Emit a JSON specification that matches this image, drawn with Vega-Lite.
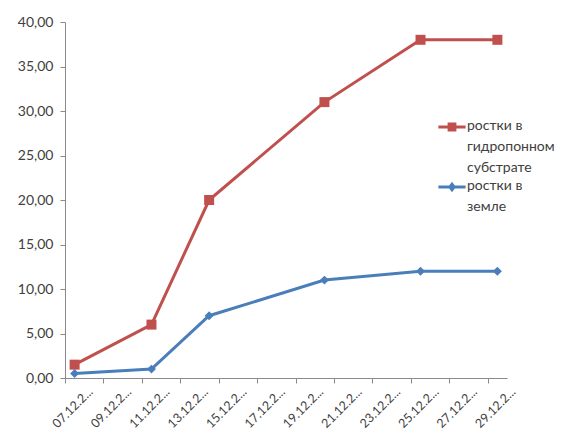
{
  "$schema": "https://vega.github.io/schema/vega-lite/v6.json",
  "autosize": {"type": "none"},
  "padding": {"left": 65, "top": 22, "right": 59, "bottom": 57},
  "width": 442,
  "height": 356,
  "background": "white",
  "config": {
    "view": {"stroke": null},
    "font": "Lato",
    "axis": {"labelFont": "Lato", "labelColor": "#404040", "domainColor": "#8a8a8a", "tickColor": "#8a8a8a", "grid": false, "title": null},
    "legend": {"labelFont": "Lato", "labelColor": "#404040"}
  },
  "data": {
    "values": [
      {"date": "2012-12-07", "series": "ростки в гидропонном субстрате", "value": 1.5},
      {"date": "2012-12-11", "series": "ростки в гидропонном субстрате", "value": 6},
      {"date": "2012-12-14", "series": "ростки в гидропонном субстрате", "value": 20},
      {"date": "2012-12-20", "series": "ростки в гидропонном субстрате", "value": 31},
      {"date": "2012-12-25", "series": "ростки в гидропонном субстрате", "value": 38},
      {"date": "2012-12-29", "series": "ростки в гидропонном субстрате", "value": 38},
      {"date": "2012-12-07", "series": "ростки в земле", "value": 0.5},
      {"date": "2012-12-11", "series": "ростки в земле", "value": 1},
      {"date": "2012-12-14", "series": "ростки в земле", "value": 7},
      {"date": "2012-12-20", "series": "ростки в земле", "value": 11},
      {"date": "2012-12-25", "series": "ростки в земле", "value": 12},
      {"date": "2012-12-29", "series": "ростки в земле", "value": 12}
    ]
  },
  "encoding": {
    "x": {
      "field": "date",
      "type": "temporal",
      "scale": {
        "type": "utc",
        "domain": [
          {"year": 2012, "month": 12, "date": 6, "hours": 12, "utc": true},
          {"year": 2012, "month": 12, "date": 29, "hours": 12, "utc": true}
        ],
        "nice": false
      },
      "axis": {
        "values": [
          {"year": 2012, "month": 12, "date": 7, "utc": true},
          {"year": 2012, "month": 12, "date": 9, "utc": true},
          {"year": 2012, "month": 12, "date": 11, "utc": true},
          {"year": 2012, "month": 12, "date": 13, "utc": true},
          {"year": 2012, "month": 12, "date": 15, "utc": true},
          {"year": 2012, "month": 12, "date": 17, "utc": true},
          {"year": 2012, "month": 12, "date": 19, "utc": true},
          {"year": 2012, "month": 12, "date": 21, "utc": true},
          {"year": 2012, "month": 12, "date": 23, "utc": true},
          {"year": 2012, "month": 12, "date": 25, "utc": true},
          {"year": 2012, "month": 12, "date": 27, "utc": true},
          {"year": 2012, "month": 12, "date": 29, "utc": true}
        ],
        "labelExpr": "utcFormat(datum.value, '%d.%m.2...')",
        "labelAngle": -45,
        "labelFontSize": 12.5,
        "tickSize": 5,
        "tickOffset": -9.61,
        "labelOffset": 21,
        "labelPadding": 2,
        "labelFlush": false,
        "labelOverlap": false
      }
    },
    "y": {
      "field": "value",
      "type": "quantitative",
      "scale": {"domain": [0, 40], "nice": false},
      "axis": {
        "values": [0, 5, 10, 15, 20, 25, 30, 35, 40],
        "labelExpr": "replace(format(datum.value, '.2f'), '.', ',')",
        "labelFontSize": 14,
        "tickSize": 5,
        "labelPadding": 7
      }
    },
    "color": {
      "field": "series",
      "type": "nominal",
      "scale": {
        "domain": ["ростки в гидропонном субстрате", "ростки в земле"],
        "range": ["#C0504D", "#4A7EBB"]
      },
      "legend": {
        "orient": "none",
        "legendX": 380,
        "legendY": 98,
        "title": null,
        "labelFontSize": 14,
        "symbolSize": 64,
        "symbolStrokeWidth": 0,
        "symbolType": "M-3.4,-0.37H3.4V0.37H-3.4Z M-1.1,-1.1H1.1V1.1H-1.1Z",
        "labelExpr": "datum.label === 'ростки в земле' ? ['ростки в', 'земле'] : ['ростки в', 'гидропонном', 'субстрате']",
        "labelBaseline": "top",
        "rowPadding": 3,
        "labelOffset": 8,
        "labelLimit": 200,
        "encode": {
          "symbols": {
            "update": {
              "shape": {"signal": "datum.value === 'ростки в земле' ? 'M-3.4,-0.37H3.4V0.37H-3.4Z M0,-1.3L1.0,0L0,1.3L-1.0,0Z' : 'M-3.4,-0.37H3.4V0.37H-3.4Z M-1.1,-1.1H1.1V1.1H-1.1Z'"},
              "fill": {"scale": "color", "field": "value"},
              "opacity": {"value": 1}
            }
          },
          "labels": {
            "update": {
              "lineHeight": {"value": 21},
              "dy": {"value": -8.5}
            }
          }
        }
      }
    }
  },
  "layer": [
    {"mark": {"type": "line", "strokeWidth": 3}},
    {
      "mark": {"type": "point", "filled": true, "opacity": 1},
      "encoding": {
        "shape": {"condition": {"test": "datum.series === 'ростки в земле'", "value": "diamond"}, "value": "square"},
        "size": {"condition": {"test": "datum.series === 'ростки в земле'", "value": 80}, "value": 100}
      }
    }
  ]
}
